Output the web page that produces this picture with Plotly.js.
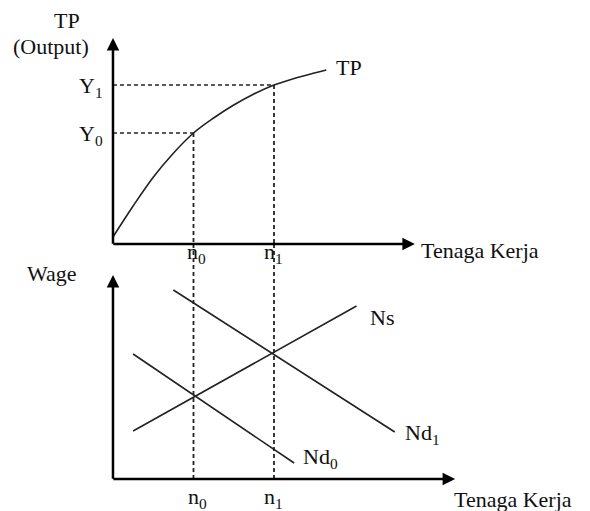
<!DOCTYPE html>
<html><head><meta charset="utf-8">
<script src="https://cdn.plot.ly/plotly-3.0.1.min.js"></script>
<style>html,body{margin:0;padding:0;background:#fff}</style>
</head><body>
<div id="chart" style="width:590px;height:511px"></div>
<script>
// ---- values (labour units on x, output / wage units on y) ----
const labourLabels = ['n<sub>0</sub>', 'n<sub>1</sub>'];
const labourTicks = [2, 4];               // n0, n1
const outputLabels = ['Y<sub>0</sub>', 'Y<sub>1</sub>'];
const outputTicks = [5.55, 7.95];         // Y0, Y1

const tpLabour = [0, 0.5, 1, 1.5, 2, 2.5, 3, 3.5, 4, 4.5, 5, 5.3];
const tpOutput = [0.35, 1.9, 3.34, 4.54, 5.55, 6.3, 6.95, 7.5, 7.95, 8.28, 8.55, 8.7];

const nsLabour = [0.5, 6.05];  const nsWage = [2.4, 8.65];
const nd0Labour = [0.5, 4.5];  const nd0Wage = [6.25, 0.8];
const nd1Labour = [1.5, 7.0];  const nd1Wage = [9.45, 2.35];

const topAxisLen = [7.5, 10.3];   // x and y arrow lengths, top panel
const botAxisLen = [8.5, 10.2];   // x and y arrow lengths, bottom panel

// ---- geometry ----
const xRange = [-2.807, 11.851];
const yTopRange = [-13.35, 12.2];
const yBotRange = [-1.6, 23.95];
const H = 511;
const pixOfTop = v => H * (1 - (v - yTopRange[0]) / (yTopRange[1] - yTopRange[0]));
const botOfPix = p => yBotRange[0] + (yBotRange[1] - yBotRange[0]) * (1 - p / H);
const wageAtTopOrigin = botOfPix(pixOfTop(0));

const FONT = {family: '"Liberation Serif", "Times New Roman", serif', size: 22, color: '#111'};
const curve = {color: '#222', width: 1.6};
const dashT = {color: '#222', width: 1.5, dash: '4px,3px'};
const dashV = {color: '#222', width: 1.8, dash: '4px,3px'};

const traces = [
  {x: tpLabour, y: tpOutput, mode: 'lines', line: Object.assign({}, curve, {shape: 'spline'}), xaxis: 'x', yaxis: 'y'},
  {x: [0, labourTicks[0]], y: [outputTicks[0], outputTicks[0]], mode: 'lines', line: dashT, xaxis: 'x', yaxis: 'y'},
  {x: [0, labourTicks[1]], y: [outputTicks[1], outputTicks[1]], mode: 'lines', line: dashT, xaxis: 'x', yaxis: 'y'},
  {x: [labourTicks[0], labourTicks[0]], y: [outputTicks[0], 0], mode: 'lines', line: dashV, xaxis: 'x', yaxis: 'y'},
  {x: [labourTicks[1], labourTicks[1]], y: [outputTicks[1], 0], mode: 'lines', line: dashV, xaxis: 'x', yaxis: 'y'},
  {x: [labourTicks[0], labourTicks[0]], y: [wageAtTopOrigin, 0], mode: 'lines', line: dashV, xaxis: 'x2', yaxis: 'y2'},
  {x: [labourTicks[1], labourTicks[1]], y: [wageAtTopOrigin, 0], mode: 'lines', line: dashV, xaxis: 'x2', yaxis: 'y2'},
  {x: nsLabour, y: nsWage, mode: 'lines', line: curve, xaxis: 'x2', yaxis: 'y2'},
  {x: nd0Labour, y: nd0Wage, mode: 'lines', line: curve, xaxis: 'x2', yaxis: 'y2'},
  {x: nd1Labour, y: nd1Wage, mode: 'lines', line: curve, xaxis: 'x2', yaxis: 'y2'}
];

function arrow(xr, yr, x, y, ax, ay) {
  return {xref: xr, yref: yr, axref: xr, ayref: yr, x: x, y: y, ax: ax, ay: ay,
    text: '', showarrow: true, arrowhead: 2, arrowsize: 1, arrowwidth: 2.5,
    arrowcolor: '#000', standoff: 0};
}
function label(xr, yr, x, y, text, xanchor, xshift, yshift) {
  return {xref: xr, yref: yr, x: x, y: y, text: text, showarrow: false,
    xanchor: xanchor, yanchor: 'middle', xshift: xshift, yshift: yshift, font: FONT};
}
const last = a => a[a.length - 1];

const annotations = [
  arrow('x', 'y', topAxisLen[0], 0, -0.03, 0),
  arrow('x', 'y', 0, topAxisLen[1], 0, -0.06),
  arrow('x2', 'y2', botAxisLen[0], 0, -0.03, 0),
  arrow('x2', 'y2', 0, botAxisLen[1], 0, -0.06),
  // top panel
  label('x', 'y', -1.14, 11.05, 'TP', 'center', 0, 3),
  label('x', 'y', -1.54, 9.95, '(Output)', 'center', 0, -1),
  label('x', 'y', 0, outputTicks[0], outputLabels[0], 'right', -8, -2),
  label('x', 'y', 0, outputTicks[1], outputLabels[1], 'right', -8, -2),
  label('x', 'y', labourTicks[0], 0, labourLabels[0], 'center', 3, -9),
  label('x', 'y', labourTicks[1], 0, labourLabels[1], 'center', 0, -9),
  label('x', 'y', topAxisLen[0], 0, 'Tenaga Kerja', 'left', 4, -6),
  label('x', 'y', last(tpLabour), last(tpOutput), 'TP', 'left', 8, 3),
  // bottom panel
  label('x2', 'y2', -1.52, 10.3, 'Wage', 'center', 0, 0),
  label('x2', 'y2', last(nsLabour), last(nsWage), 'Ns', 'left', 11, -11),
  label('x2', 'y2', last(nd1Labour), last(nd1Wage), 'Nd<sub>1</sub>', 'left', 8, -2),
  label('x2', 'y2', last(nd0Labour), last(nd0Wage), 'Nd<sub>0</sub>', 'left', 7, 5),
  label('x2', 'y2', labourTicks[0], 0, labourLabels[0], 'center', 4, -19),
  label('x2', 'y2', labourTicks[1], 0, labourLabels[1], 'center', 0, -19),
  label('x2', 'y2', botAxisLen[0], 0, 'Tenaga Kerja', 'left', -3, -20)
];

const hidden = {visible: false, fixedrange: true};
const layout = {
  width: 590, height: 511,
  margin: {l: 0, r: 0, t: 0, b: 0},
  paper_bgcolor: '#fff', plot_bgcolor: '#fff',
  showlegend: false,
  font: FONT,
  xaxis: Object.assign({domain: [0, 1], range: xRange}, hidden),
  yaxis: Object.assign({domain: [0, 1], range: yTopRange}, hidden),
  xaxis2: Object.assign({range: xRange, overlaying: 'x', anchor: 'y2'}, hidden),
  yaxis2: Object.assign({range: yBotRange, overlaying: 'y', anchor: 'x2'}, hidden),
  annotations: annotations
};
Plotly.newPlot('chart', traces, layout, {staticPlot: true, displayModeBar: false});
</script>
</body></html>
